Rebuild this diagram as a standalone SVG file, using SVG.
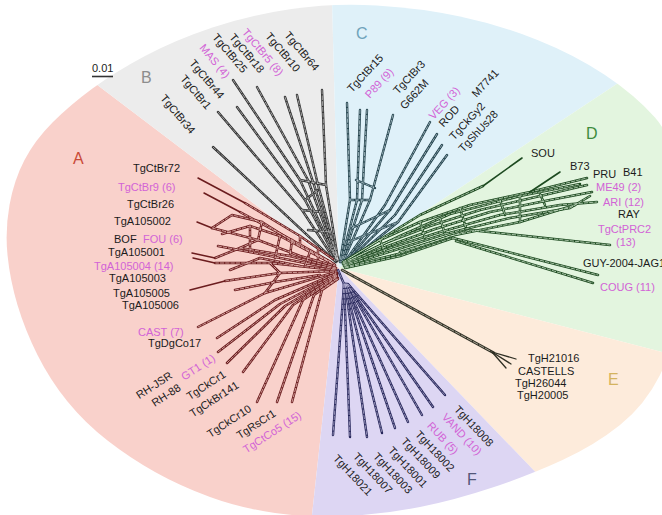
<svg xmlns="http://www.w3.org/2000/svg" width="662" height="515" viewBox="0 0 662 515">
<style>
.t{font-family:"Liberation Sans",Arial,Helvetica,sans-serif;font-size:11px;fill:#1b1b1b}
.p{fill:#d263d6}
.m{text-anchor:middle}
.sec{font-family:"Liberation Sans",Arial,Helvetica,sans-serif;font-size:16px}
.ln{fill:none;stroke-linecap:round;stroke-linejoin:round}
.oA{stroke:#6b1c1e;stroke-width:2.5}
.iA{stroke:#f9d1cb;stroke-width:0.7;stroke-dasharray:3.5 1.8}
.sA{stroke:#6b1c1e;stroke-width:1.5}
.oB{stroke:#2e2e2e;stroke-width:2.4}
.iB{stroke:#ececec;stroke-width:0.6;stroke-dasharray:4 1.8}
.oC{stroke:#21404a;stroke-width:2.4}
.iC{stroke:#dff1f9;stroke-width:0.6;stroke-dasharray:3.5 1.8}
.oD{stroke:#1d4a20;stroke-width:2.5}
.iD{stroke:#e3f5df;stroke-width:0.7;stroke-dasharray:3.5 1.8}
.sD{stroke:#1d4a20;stroke-width:1.6}
.oE{stroke:#2f2f24;stroke-width:2.6}
.iE{stroke:#f3ecd8;stroke-width:0.6;stroke-dasharray:5 1.8}
.sE{stroke:#2f2f24;stroke-width:1.3}
.oF{stroke:#26265a;stroke-width:2.4}
.iF{stroke:#ddd6f3;stroke-width:0.6;stroke-dasharray:3.5 1.8}
</style>
<defs>
<clipPath id="blob">
<path d="M291.5,9 Q333,3 376.5,5.5 Q420,8 460,16.5 Q500,25 537.5,40 Q575,55 605,75 Q635,95 655,117.5 Q675,140 682.5,195 Q690,250 682.5,297.5 Q675,345 660,375 Q645,405 620,425 Q595,445 562.5,460 Q530,475 492.5,487.5 Q455,500 420,507 Q385,514 347.5,516 Q310,518 275,513 Q240,508 210,497 Q180,486 155,472 Q130,458 107.5,440.5 Q85,423 67.5,401.5 Q50,380 37.5,355 Q25,330 17.5,305 Q10,280 7.5,255 Q5,230 9.5,205 Q14,180 24.5,160 Q35,140 52.5,122.5 Q70,105 92.5,88.5 Q115,72 145,56 Q175,40 212.5,27.5 Q250,15 291.5,9 Z"/>
</clipPath>
<g id="netA">
<path d="M217,338 L275,300 L337,273"/>
<path d="M218,352 L280,304 L337,274"/>
<path d="M198,327 L265,293 L336,272"/>
<path d="M227,363 L285,306 L337,275"/>
<path d="M243,372 L293,305 L337,276"/>
<path d="M257,402 L303,300 L337,277"/>
<path d="M277,402 L314,295 L338,278"/>
<path d="M292,402 L322,290 L338,279"/>
<path d="M245,203 L300,236 L333,259"/>
<path d="M240,212 L292,240 L331,262"/>
<path d="M212,228 L232,215 L262,222 L300,246 L334,264"/>
<path d="M212,228 L258,240 L300,256 L335,266"/>
<path d="M215,258 L240,248 L290,256 L336,268"/>
<path d="M215,263 L270,263 L336,270"/>
<path d="M225,281 L280,273 L336,271"/>
<path d="M222,234 L250,226 L280,236 L310,252 L335,265"/>
<path d="M218,246 L250,252 L300,262 L336,269"/>
<path d="M230,270 L260,258 L300,266"/>
<path d="M235,290 L275,282 L320,275"/>
<path d="M240,248 L258,240"/>
<path d="M262,222 L258,240"/>
<path d="M300,236 L300,246"/>
<path d="M270,263 L280,273"/>
<path d="M280,273 L265,293"/>
<path d="M292,240 L290,256"/>
<path d="M250,226 L250,252"/>
<path d="M280,236 L275,258"/>
<path d="M310,252 L305,266"/>
<path d="M318,250 L318,262"/>
</g>
<g id="netB">
<path d="M213,147 L336,262"/>
<path d="M218,112 L302,210 L336,262"/>
<path d="M237,107 L305,200 L337,261"/>
<path d="M233,80 L300,180 L337,260"/>
<path d="M257,87 L308,180 L337,260"/>
<path d="M285,97 L314,185 L338,260"/>
<path d="M297,95 L318,185 L338,260"/>
<path d="M322,90 L326,185 L338,260"/>
<path d="M300,180 L326,185"/>
<path d="M302,210 L322,212"/>
<path d="M305,200 L318,190"/>
<path d="M308,230 L330,232"/>
</g>
<g id="netC">
<path d="M347,103 L350,200 L340,262"/>
<path d="M360,110 L357,200 L341,262"/>
<path d="M367,110 L362,200 L342,262"/>
<path d="M393,115 L370,200 L343,262"/>
<path d="M430,122 L385,205 L344,263"/>
<path d="M437,134 L390,210 L344,264"/>
<path d="M442,145 L395,215 L345,264"/>
<path d="M447,155 L398,222 L345,265"/>
<path d="M350,200 L370,200"/>
<path d="M352,228 L390,210"/>
<path d="M348,242 L398,222"/>
<path d="M356,180 L375,188"/>
</g>
<g id="netD">
<path d="M343,262 L380,240 L420,222 L470,205 L530,192 L587,178"/>
<path d="M343,263 L385,243 L430,226 L480,210 L540,196 L587,185"/>
<path d="M344,265 L390,248 L440,232 L500,215 L560,205 L597,202"/>
<path d="M343,264 L388,246 L435,229 L490,212 L550,200 L592,192"/>
<path d="M344,266 L395,250 L445,234 L510,218 L570,208 L590,196"/>
<path d="M345,267 L398,254 L450,236 L520,222 L575,205"/>
<path d="M350,260 L400,236 L450,214 L520,196 L580,184"/>
<path d="M350,258 L420,215 L483,186"/>
<path d="M345,268 L400,256 L453,238"/>
<path d="M400,252 L470,230"/>
<path d="M470,230 L610,245"/>
<path d="M453,238 L598,275"/>
<path d="M456,241 L593,283"/>
<path d="M420,222 L425,238"/>
<path d="M460,208 L466,228"/>
<path d="M500,200 L505,215"/>
<path d="M540,194 L545,205"/>
<path d="M380,240 L385,252"/>
<path d="M520,196 L520,222"/>
<path d="M440,218 L445,234"/>
</g>
<g id="netF">
<path d="M338,270 L344,284"/>
<path d="M344,284 L333,435"/>
<path d="M344,284 L350,437"/>
<path d="M345,284 L367,437"/>
<path d="M345,284 L382,433"/>
<path d="M346,284 L395,428"/>
<path d="M346,284 L408,422"/>
<path d="M347,284 L422,415"/>
<path d="M347,284 L433,407"/>
<path d="M348,284 L445,395"/>
</g>
</defs>
<rect width="662" height="515" fill="#ffffff"/>
<g id="sectors" clip-path="url(#blob)">
<polygon fill="#f9d1cb" points="339,268 258,1009 -1000,1009 -1000,-275 -378,-275"/>
<polygon fill="#ececec" points="339,268 -378,-275 -378,-536 318,-536"/>
<polygon fill="#dff1f9" points="339,268 318,-536 873,-536 873,-86"/>
<polygon fill="#e3f5df" points="339,268 873,-86 1308,-86 1308,520"/>
<polygon fill="#fdebdb" points="339,268 1308,520 1308,910 957,910"/>
<polygon fill="#ddd6f3" points="339,268 957,910 957,1009 258,1009"/>
</g>
<g id="scale">
<text class="t" x="92" y="72">0.01</text>
<line x1="92" y1="76.5" x2="113" y2="76.5" stroke="#333" stroke-width="1.6"/>
</g>
<g id="connectors">
<use href="#netB" class="ln oB"/><use href="#netB" class="ln iB"/>
<use href="#netC" class="ln oC"/><use href="#netC" class="ln iC"/>
<use href="#netD" class="ln oD"/><use href="#netD" class="ln iD"/>
<g class="ln sD"><path d="M483,186 L522,158"/><path d="M530,192 L560,172"/></g>
<path class="ln oE" d="M342,270 L494,353"/><path class="ln iE" d="M342,270 L494,353"/>
<g class="ln sE"><path d="M492,352 L516,359"/><path d="M492,352 L511,364"/><path d="M492,352 L506,368"/></g>
<use href="#netF" class="ln oF"/><use href="#netF" class="ln iF"/>
<use href="#netA" class="ln oA"/><use href="#netA" class="ln iA"/>
<g class="ln sA">
<path d="M198,178 L245,203"/><path d="M204,193 L240,212"/><path d="M197,222 L212,228"/>
<path d="M192,253 L215,258"/><path d="M193,258 L215,263"/><path d="M190,290 L225,281"/>
</g>
</g>
<g id="groups">
<g id="g-A"><text class="sec" x="73" y="164" fill="#c94a37">A</text></g>
<g id="g-B"><text class="sec" x="141" y="83" fill="#8d8d8d">B</text></g>
<g id="g-C"><text class="sec" x="356" y="39" fill="#6fa3bb">C</text></g>
<g id="g-D"><text class="sec" x="586" y="139" fill="#3d8c3d">D</text></g>
<g id="g-E"><text class="sec" x="608" y="385" fill="#d4b35e">E</text></g>
<g id="g-F"><text class="sec" x="467" y="485" fill="#525779">F</text></g>
</g>
<g id="nodes">
<g id="n-TgCtBr72"><text class="t" x="133" y="172">TgCtBr72</text></g>
<g id="n-TgCtBr9"><text class="t p" x="118" y="191">TgCtBr9 (6)</text></g>
<g id="n-TgCtBr26"><text class="t" x="127" y="208">TgCtBr26</text></g>
<g id="n-TgA105002"><text class="t" x="114" y="225">TgA105002</text></g>
<g id="n-BOF"><text class="t" x="114" y="243">BOF</text></g>
<g id="n-FOU"><text class="t p" x="143" y="243">FOU (6)</text></g>
<g id="n-TgA105001"><text class="t" x="108" y="256">TgA105001</text></g>
<g id="n-TgA105004"><text class="t p" x="94" y="270">TgA105004 (14)</text></g>
<g id="n-TgA105003"><text class="t" x="109" y="282">TgA105003</text></g>
<g id="n-TgA105005"><text class="t" x="113" y="297">TgA105005</text></g>
<g id="n-TgA105006"><text class="t" x="122" y="309">TgA105006</text></g>
<g id="n-CAST"><text class="t p" x="138" y="336">CAST (7)</text></g>
<g id="n-TgDgCo17"><text class="t" x="148" y="347">TgDgCo17</text></g>
<g id="n-GT1"><text class="t p m" y="4" transform="translate(198,367) rotate(-33)">GT1 (1)</text></g>
<g id="n-RH-JSR"><text class="t m" y="4" transform="translate(154,385) rotate(-33)">RH-JSR</text></g>
<g id="n-RH-88"><text class="t m" y="4" transform="translate(166,395) rotate(-33)">RH-88</text></g>
<g id="n-TgCkCr1"><text class="t m" y="4" transform="translate(206,385) rotate(-33)">TgCkCr1</text></g>
<g id="n-TgCkBr141"><text class="t m" y="4" transform="translate(214,399) rotate(-33)">TgCkBr141</text></g>
<g id="n-TgCkCr10"><text class="t m" y="4" transform="translate(229,421) rotate(-33)">TgCkCr10</text></g>
<g id="n-TgRsCr1"><text class="t m" y="4" transform="translate(256,424) rotate(-33)">TgRsCr1</text></g>
<g id="n-TgCtCo5"><text class="t p m" y="4" transform="translate(272,432) rotate(-33)">TgCtCo5 (15)</text></g>
<g id="n-TgCtBr34"><text class="t m" y="4" transform="translate(178,114) rotate(50)">TgCtBr34</text></g>
<g id="n-TgCtBr1"><text class="t m" y="4" transform="translate(196,92) rotate(50)">TgCtBr1</text></g>
<g id="n-TgCtBr44"><text class="t m" y="4" transform="translate(207,79) rotate(50)">TgCtBr44</text></g>
<g id="n-MAS"><text class="t p m" y="4" transform="translate(215,61) rotate(50)">MAS (4)</text></g>
<g id="n-TgCtBr25"><text class="t m" y="4" transform="translate(230,53) rotate(50)">TgCtBr25</text></g>
<g id="n-TgCtBr18"><text class="t m" y="4" transform="translate(247,53) rotate(50)">TgCtBr18</text></g>
<g id="n-TgCtBr5"><text class="t p m" y="4" transform="translate(263,52) rotate(50)">TgCtBr5 (8)</text></g>
<g id="n-TgCtBr10"><text class="t m" y="4" transform="translate(283,52) rotate(50)">TgCtBr10</text></g>
<g id="n-TgCtBr64"><text class="t m" y="4" transform="translate(302,51) rotate(50)">TgCtBr64</text></g>
<g id="n-TgCtBr15"><text class="t m" y="4" transform="translate(365,73) rotate(-47)">TgCtBr15</text></g>
<g id="n-P89"><text class="t p m" y="4" transform="translate(379,83) rotate(-47)">P89 (9)</text></g>
<g id="n-TgCtBr3"><text class="t m" y="4" transform="translate(409,77) rotate(-47)">TgCtBr3</text></g>
<g id="n-G662M"><text class="t m" y="4" transform="translate(414,94) rotate(-47)">G662M</text></g>
<g id="n-VEG"><text class="t p m" y="4" transform="translate(444,103) rotate(-47)">VEG (3)</text></g>
<g id="n-ROD"><text class="t m" y="4" transform="translate(449,116) rotate(-47)">ROD</text></g>
<g id="n-M7741"><text class="t m" y="4" transform="translate(485,83) rotate(-47)">M7741</text></g>
<g id="n-TgCkGy2"><text class="t m" y="4" transform="translate(467,121) rotate(-47)">TgCkGy2</text></g>
<g id="n-TgShUs28"><text class="t m" y="4" transform="translate(478,131) rotate(-47)">TgShUs28</text></g>
<g id="n-SOU"><text class="t" x="531" y="157">SOU</text></g>
<g id="n-B73"><text class="t" x="570" y="170">B73</text></g>
<g id="n-PRU"><text class="t" x="593" y="178">PRU</text></g>
<g id="n-B41"><text class="t" x="623" y="176">B41</text></g>
<g id="n-ME49"><text class="t p" x="596" y="191">ME49 (2)</text></g>
<g id="n-ARI"><text class="t p" x="603" y="206">ARI (12)</text></g>
<g id="n-RAY"><text class="t" x="618" y="218">RAY</text></g>
<g id="n-TgCtPRC2"><text class="t p" x="598" y="233">TgCtPRC2</text><text class="t p" x="616" y="246">(13)</text></g>
<g id="n-GUY"><text class="t" x="583" y="267">GUY-2004-JAG1</text></g>
<g id="n-COUG"><text class="t p" x="600" y="291">COUG (11)</text></g>
<g id="n-TgH21016"><text class="t" x="528" y="362">TgH21016</text></g>
<g id="n-CASTELLS"><text class="t" x="518" y="375">CASTELLS</text></g>
<g id="n-TgH26044"><text class="t" x="515" y="387">TgH26044</text></g>
<g id="n-TgH20005"><text class="t" x="517" y="399">TgH20005</text></g>
<g id="n-TgH18008"><text class="t m" y="4" transform="translate(474,426) rotate(47)">TgH18008</text></g>
<g id="n-VAND"><text class="t p m" y="4" transform="translate(462,434) rotate(47)">VAND (10)</text></g>
<g id="n-RUB"><text class="t p m" y="4" transform="translate(443,438) rotate(47)">RUB (5)</text></g>
<g id="n-TgH18002"><text class="t m" y="4" transform="translate(435,451) rotate(47)">TgH18002</text></g>
<g id="n-TgH18009"><text class="t m" y="4" transform="translate(421,458) rotate(47)">TgH18009</text></g>
<g id="n-TgH18001"><text class="t m" y="4" transform="translate(408,467) rotate(47)">TgH18001</text></g>
<g id="n-TgH18003"><text class="t m" y="4" transform="translate(393,473) rotate(47)">TgH18003</text></g>
<g id="n-TgH18007"><text class="t m" y="4" transform="translate(373,473) rotate(47)">TgH18007</text></g>
<g id="n-TgH18021"><text class="t m" y="4" transform="translate(353,475) rotate(47)">TgH18021</text></g>
</g>
</svg>
